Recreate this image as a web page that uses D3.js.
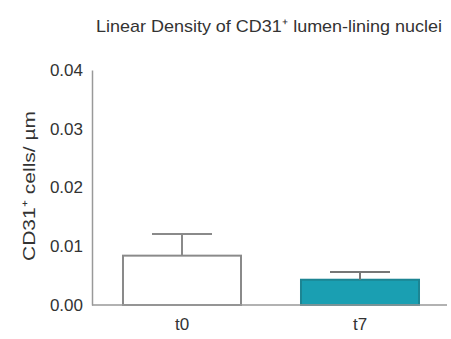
<!DOCTYPE html>
<html><head><meta charset="utf-8">
<script src="https://cdn.jsdelivr.net/npm/d3@7"></script>
<style>body{margin:0;background:#fff}svg{display:block}text{font-family:"Liberation Sans",Arial,sans-serif;fill:#333}</style>
</head><body><svg id="c" width="451" height="339"></svg>
<script>
const categories = ["t0", "t7"];
const means = [0.0084, 0.0043];
const errors = [0.0037, 0.0013];
const yTicks = [0.00, 0.01, 0.02, 0.03, 0.04];
const title = "Linear Density of CD31\u207A lumen-lining nuclei";
const yTitle = "CD31\u207A cells/ \u00B5m";

const svg = d3.select("#c");
const y = d3.scaleLinear().domain([0, 0.04]).range([305, 70]);
const x = d3.scaleBand().domain(categories).range([93, 449]).paddingInner(0.337).paddingOuter(0.1685);
const fills = ["#ffffff", "#1a9fb2"];
const strokes = ["#8a8a8a", "#1d8593"];

// bars
svg.selectAll("rect.bar").data(categories).join("rect")
  .attr("x", d => x(d)).attr("width", x.bandwidth())
  .attr("y", (d,i) => y(means[i])).attr("height", (d,i) => y(0) - y(means[i]))
  .attr("fill", (d,i) => fills[i]).attr("stroke", (d,i) => strokes[i]).attr("stroke-width", 2);

// error bars (upper only)
categories.forEach((c, i) => {
  const cx = x(c) + x.bandwidth()/2;
  const g = svg.append("g").attr("stroke", i === 0 ? "#8a8a8a" : "#777").attr("stroke-width", 2);
  g.append("line").attr("x1", cx).attr("x2", cx).attr("y1", y(means[i])).attr("y2", y(means[i] + errors[i]));
  g.append("line").attr("x1", cx - 30).attr("x2", cx + 30).attr("y1", y(means[i] + errors[i])).attr("y2", y(means[i] + errors[i]));
});

// axes
const yAxis = svg.append("g").attr("transform", "translate(92,0)")
  .call(d3.axisLeft(y).tickValues(yTicks).tickFormat(d3.format(".2f")).tickSize(0).tickPadding(9));
yAxis.select(".domain").attr("stroke", "#999").attr("stroke-width", 1.5);
yAxis.selectAll("text").attr("font-size", 17).attr("fill", "#333").style("font-family", "'Liberation Sans',Arial,sans-serif");

const xAxis = svg.append("g").attr("transform", "translate(0,305)")
  .call(d3.axisBottom(x).tickSize(0).tickPadding(13));
xAxis.select(".domain").attr("d", "M92,0H447").attr("stroke", "#999").attr("stroke-width", 1.5);
xAxis.selectAll("text").attr("font-size", 17).attr("fill", "#333").style("font-family", "'Liberation Sans',Arial,sans-serif");

// titles
svg.append("text").attr("x", 96).attr("y", 32).attr("font-size", 17)
  .attr("textLength", 346).attr("lengthAdjust", "spacingAndGlyphs").text(title);
svg.append("text").attr("transform", "translate(35,186) rotate(-90)").attr("text-anchor", "middle")
  .attr("font-size", 17).attr("textLength", 150).attr("lengthAdjust", "spacingAndGlyphs").text(yTitle);
</script></body></html>
